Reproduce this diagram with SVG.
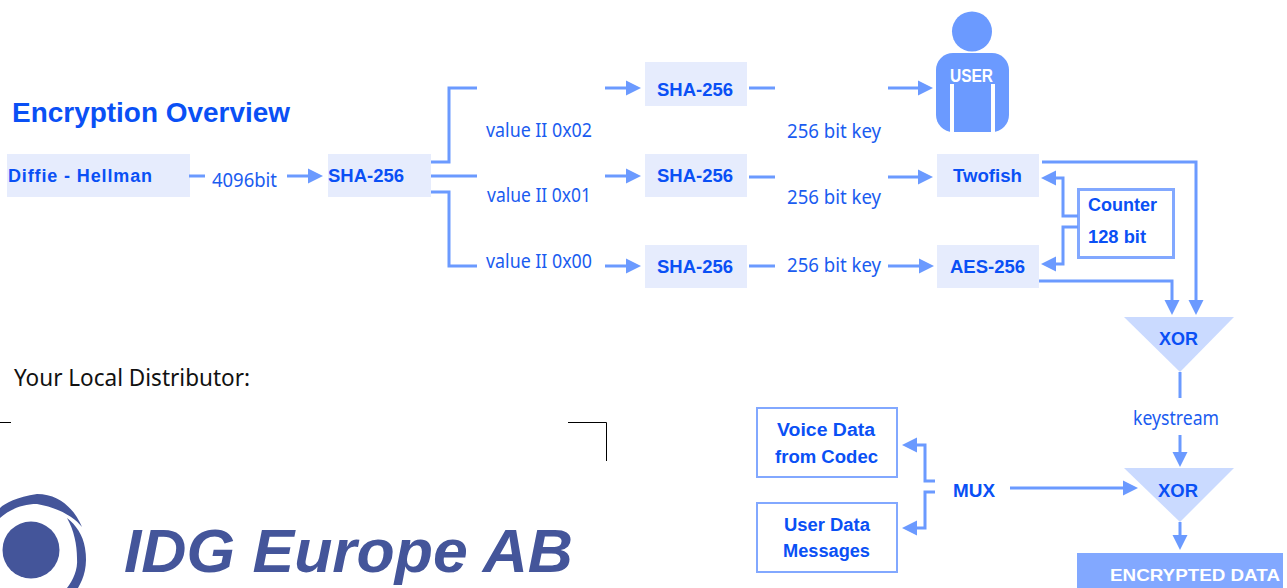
<svg xmlns="http://www.w3.org/2000/svg" width="1287" height="588" viewBox="0 0 1287 588">
<style>
text{font-family:"Liberation Sans",Arial,sans-serif;font-weight:bold;font-size:18px;fill:#0a50f5}
.t{font-family:"Noto Sans","Open Sans",sans-serif;font-weight:normal;font-size:19px;fill:#1a5cf0}
.box{fill:#e6ecfd}
.obox{fill:#fff;stroke:#82a8ff;stroke-width:2}
.tri{fill:#cadaff}
.c{fill:none;stroke:#6b9aff;stroke-width:3}
.a{marker-end:url(#ah)}
</style>
<defs>
<marker id="ah" markerUnits="userSpaceOnUse" markerWidth="16" markerHeight="16" viewBox="0 0 16 16" refX="10" refY="8" orient="auto"><path d="M0 0.5L15 8L0 15.500z" fill="#6b9aff"/></marker>
</defs>
<rect width="1287" height="588" fill="#fff"/>
<text x="12" y="122" style="font-size:27px" textLength="278" lengthAdjust="spacingAndGlyphs">Encryption Overview</text>
<g id="diffie"><rect class="box" x="7" y="154" width="183" height="43"/><text x="8" y="182" textLength="144">Diffie - Hellman</text></g>
<g id="sha-main"><rect class="box" x="328" y="154" width="103" height="43"/><text x="328" y="182" textLength="76" lengthAdjust="spacingAndGlyphs">SHA-256</text></g>
<g id="sha-1"><rect class="box" x="645" y="62" width="102" height="44"/><text x="657" y="96" textLength="76" lengthAdjust="spacingAndGlyphs">SHA-256</text></g>
<g id="sha-2"><rect class="box" x="645" y="154" width="102" height="43"/><text x="657" y="182" textLength="76" lengthAdjust="spacingAndGlyphs">SHA-256</text></g>
<g id="sha-3"><rect class="box" x="645" y="245" width="102" height="43"/><text x="657" y="273" textLength="76" lengthAdjust="spacingAndGlyphs">SHA-256</text></g>
<g id="user"><circle cx="972" cy="31.500" r="20" fill="#6b9aff"/><rect x="936" y="53" width="73" height="79" rx="17" fill="#6b9aff"/><path d="M952 84V132M993 84V132" stroke="#fff" stroke-width="4"/><text x="950" y="82" style="fill:#fff" textLength="43" lengthAdjust="spacingAndGlyphs">USER</text></g>
<g id="twofish"><rect class="box" x="937" y="154" width="102" height="43"/><text x="953" y="182" textLength="69" lengthAdjust="spacingAndGlyphs">Twofish</text></g>
<g id="aes"><rect class="box" x="937" y="245" width="102" height="43"/><text x="950" y="273" textLength="75" lengthAdjust="spacingAndGlyphs">AES-256</text></g>
<g id="counter"><rect x="1078.500" y="189.500" width="95" height="68" fill="#fff" stroke="#82a8ff" stroke-width="3"/><text x="1088" y="211" textLength="69" lengthAdjust="spacingAndGlyphs">Counter</text><text x="1088" y="243" textLength="58" lengthAdjust="spacingAndGlyphs">128 bit</text></g>
<g id="xor-1"><path class="tri" d="M1124 317H1234L1180 372z"/><text x="1159" y="345" textLength="39" lengthAdjust="spacingAndGlyphs">XOR</text></g>
<g id="xor-2"><path class="tri" d="M1124 468H1234L1180 522z"/><text x="1158" y="497" textLength="40" lengthAdjust="spacingAndGlyphs">XOR</text></g>
<g id="voice"><rect class="obox" x="757" y="408" width="140" height="69"/><text x="777" y="436" textLength="98" lengthAdjust="spacingAndGlyphs">Voice Data</text><text x="775" y="463" textLength="103" lengthAdjust="spacingAndGlyphs">from Codec</text></g>
<g id="userdata"><rect class="obox" x="757" y="503" width="140" height="69"/><text x="784" y="531" textLength="86" lengthAdjust="spacingAndGlyphs">User Data</text><text x="783" y="557" textLength="87" lengthAdjust="spacingAndGlyphs">Messages</text></g>
<g id="mux"><text x="953" y="497" textLength="42" lengthAdjust="spacingAndGlyphs">MUX</text></g>
<g id="encrypted"><rect x="1077" y="553" width="206" height="35" fill="#82a8ff"/><text x="1110" y="581" style="fill:#fff;font-size:16.500px" textLength="170" lengthAdjust="spacingAndGlyphs">ENCRYPTED DATA</text></g>
<g id="connectors">
<path class="c" d="M189 176H205"/>
<path class="c a" d="M287 176H318"/>
<path class="c" d="M431 162H449V88H477M431 176H477M431 192H449V266H477"/>
<path class="c a" d="M605 88H636"/><path class="c a" d="M605 176H636"/><path class="c a" d="M605 266H636"/>
<path class="c" d="M749 88H775M749 177H775M749 266H775"/>
<path class="c a" d="M888 88H928"/><path class="c a" d="M888 177H928"/><path class="c a" d="M888 266H929"/>
<path class="c a" d="M1042 162H1196V310"/>
<path class="c a" d="M1039 281H1172V310"/>
<path class="c a" d="M1078 216H1063V178H1046"/>
<path class="c a" d="M1078 227H1063V264H1046"/>
<path class="c" d="M1180 372V398"/>
<path class="c a" d="M1180 435V462"/>
<path class="c a" d="M1180 522V545"/>
<path class="c a" d="M1010 488H1133"/>
<path class="c a" d="M935 481H925V445H907"/>
<path class="c a" d="M935 492H925V528H907"/>
</g>
<g id="labels">
<text class="t" x="212" y="187" textLength="65" lengthAdjust="spacingAndGlyphs">4096bit</text>
<text class="t" x="486" y="137" textLength="106" lengthAdjust="spacingAndGlyphs">value II 0x02</text>
<text class="t" x="487" y="202" textLength="104" lengthAdjust="spacingAndGlyphs">value II 0x01</text>
<text class="t" x="486" y="268" textLength="106" lengthAdjust="spacingAndGlyphs">value II 0x00</text>
<text class="t" x="787" y="138" textLength="94" lengthAdjust="spacingAndGlyphs">256 bit key</text>
<text class="t" x="787" y="204" textLength="94" lengthAdjust="spacingAndGlyphs">256 bit key</text>
<text class="t" x="787" y="272" textLength="94" lengthAdjust="spacingAndGlyphs">256 bit key</text>
<text class="t" x="1133" y="425" textLength="86" lengthAdjust="spacingAndGlyphs">keystream</text>
<text class="t" x="14" y="386" style="fill:#111;font-size:23px" textLength="236" lengthAdjust="spacingAndGlyphs">Your Local Distributor:</text>
</g>
<g id="frame"><path d="M0 422.500H11M568 422.500H606.500V461" fill="none" stroke="#000"/></g>
<g id="logo">
<circle cx="31" cy="550" r="28.500" fill="#44559a"/>
<path d="M0 508C5 503 17 497 37 494C60 494 75 510 82 527C75 518 60 508 37 504C20 504 8 511 0 518z" fill="#44559a"/>
<path d="M67 518C76 525 83 535 85 548C88 565 84 578 78 588H67C73 580 78 570 77 558C77 545 74 530 67 518z" fill="#44559a"/>
<text x="124" y="572" style="font-size:61px;font-style:italic;fill:#44559a" textLength="449" lengthAdjust="spacingAndGlyphs">IDG Europe AB</text>
</g>
</svg>
